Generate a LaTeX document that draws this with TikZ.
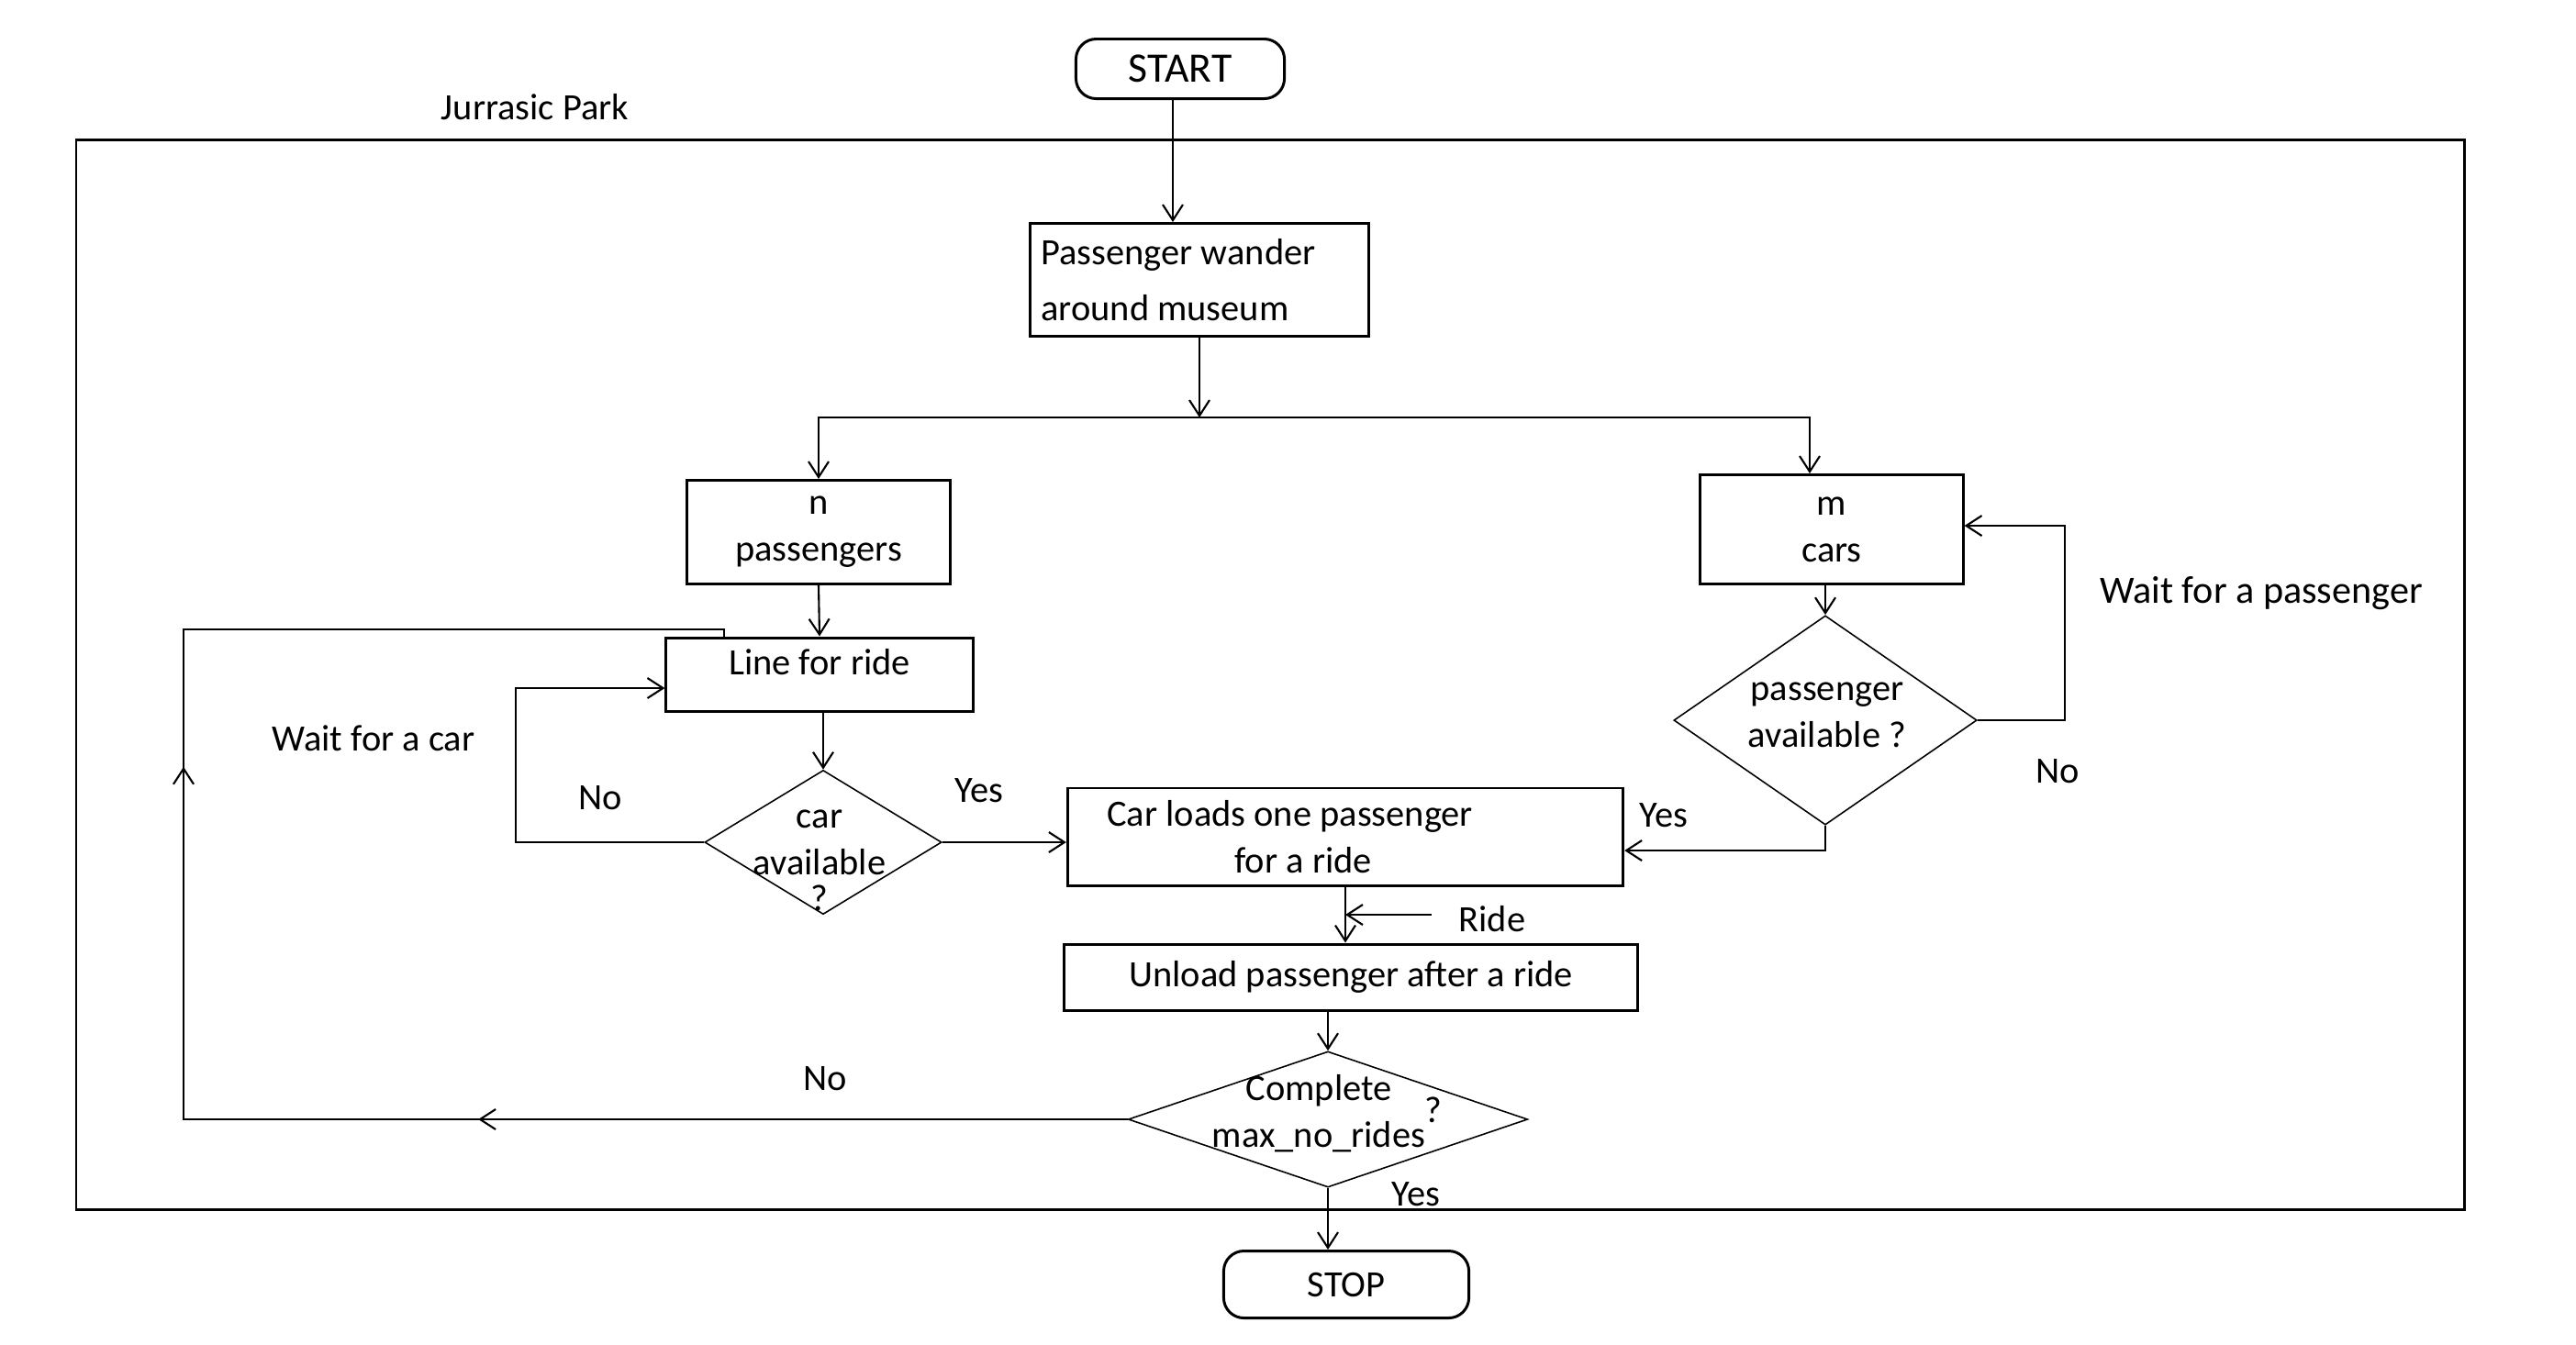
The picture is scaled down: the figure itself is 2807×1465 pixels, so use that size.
\documentclass[tikz,border=0pt]{standalone}
\usepackage{fontspec}
\setmainfont{Carlito}
\usetikzlibrary{shapes.geometric,arrows.meta,decorations.markings}

\tikzset{
  box/.style={draw,line width=0.85pt,inner sep=0pt,align=center},
  endbox/.style={box,rounded corners=0.22cm},
  decision/.style={draw,diamond,line width=0.45pt,inner sep=0pt},
  txt/.style={inner sep=0pt,align=center},
  link/.style={line width=0.6pt},
  arr/.style={link,-{Straight Barb[length=0.17cm,width=0.22cm]}},
  midarr/.style={link,postaction={decorate},decoration={markings,
    mark=at position #1 with {\arrow{Straight Barb[length=0.17cm,width=0.22cm]}}}}
}

\begin{document}
\begin{tikzpicture}[x=0.01cm,y=-0.01cm,font=\fontsize{11.5}{14.5}\selectfont]
\useasboundingbox (0,0) rectangle (2807,1465);

% the park
\draw[line width=0.85pt] (83,152) rectangle (2685,1318);
\node[txt,font=\fontsize{11.5}{13}\selectfont] (park) at (583,117) {Jurrasic Park};

% boxes
\node[endbox,minimum width=2.27cm,minimum height=0.65cm,font=\fontsize{13}{15}\selectfont] (start) at (1286,75) {START};
\node[box,minimum width=3.69cm,minimum height=1.23cm,text width=3.45cm,align=flush left] (wander) at (1307,305) {Passenger wander\\[0.1cm]around museum};
\node[box,minimum width=2.87cm,minimum height=1.13cm] (nbox) at (892,580) {n\\passengers};
\node[box,minimum width=2.86cm,minimum height=1.19cm] (mcars) at (1996,577) {m\\cars};
\node[box,minimum width=3.34cm,text height=0.3cm,text depth=0.3cm,inner ysep=0.1cm] (line) at (893,735) {Line for ride};
\node[box,minimum width=6.05cm,minimum height=1.06cm,text width=5.19cm,inner xsep=0.43cm,align=flush left] (cload) at (1466,912) {Car loads one passenger\\\hspace*{1.39cm}for a ride};
\node[box,minimum width=6.25cm,minimum height=0.72cm] (unload) at (1472,1065) {Unload passenger after a ride};
\node[endbox,minimum width=2.67cm,minimum height=0.73cm] (stop) at (1467,1400) {STOP};

% decisions
\node[decision,minimum width=3.3cm,minimum height=2.28cm] (pavail) at (1989,785) {};
\node[txt] (pavailtxt) at (1991,779) {passenger\\available ?};
\node[decision,minimum width=2.58cm,minimum height=1.57cm] (cavail) at (897,918) {};
\node[txt] (cavailtxt) at (893,938) {car\\available\\[-0.12cm]?};
\node[decision,minimum width=4.35cm,minimum height=1.48cm] (cmplt) at (1447,1220) {};
\node[txt] (cmplttxt) at (1437,1214) {Complete\\max\_no\_rides};
\node[txt] (cmpltq) at (1562,1210) {?};

% flow
\coordinate (fork) at (1307,455);
\draw[arr] ([xshift=-0.08cm]start.south) -- ([xshift=-0.08cm]start.south |- wander.north);
\draw[arr] (wander.south) -- (fork);
\draw[arr] (fork) -| (nbox.north);
\draw[arr] (fork) -| ([xshift=-0.24cm]mcars.north);
\draw[arr] (nbox.south) -- (line.north);
\draw[arr] (cavail.north |- line.south) -- (cavail.north);
\draw[arr] (cavail.east) -- (cavail.east -| cload.west);
\coordinate (waitcar) at (562,750);
\draw[arr] (cavail.west) -| (waitcar) -- (waitcar -| line.west);
\draw[arr] (pavail.north |- mcars.south) -- (pavail.north);
\coordinate (waitpas) at (2250,573);
\draw[arr] (pavail.east) -| (waitpas) -- (waitpas -| mcars.east);
\draw[arr] (pavail.south) |- ([yshift=-0.15cm]cload.east);
\draw[arr] (cload.south) -- (cload.south |- unload.north);
\coordinate (ridetail) at (1560,997);
\draw[arr] (ridetail) -- (ridetail -| cload.south);
\draw[arr] (cmplt.north |- unload.south) -- (cmplt.north);
\draw[arr] (cmplt.south) -- (cmplt.south |- stop.north);

% back to the line
\coordinate (backbot) at (200,1220);
\coordinate (backtop) at (200,686);
\coordinate (backin) at (789,686);
\draw[midarr=7.07cm] (cmplt.west) -- (backbot) -- (backtop) -- (backin) -- (backin |- line.north);
\draw[midarr=14.12cm] (cmplt.west) -- (backbot) -- (backtop);

% labels
\node[txt] (nocar) at (654,870) {No};
\node[txt] (waitcartxt) at (407,805) {Wait for a car};
\node[txt] (yescar) at (1067,862) {Yes};
\node[txt,font=\fontsize{12}{14}\selectfont] (waitpastxt) at (2464,647) {Wait for a passenger};
\node[txt] (nopas) at (2242,841) {No};
\node[txt] (yespas) at (1813,889) {Yes};
\node[txt] (ride) at (1626,1002) {Ride};
\node[txt] (nodone) at (899,1176) {No};
\node[txt] (yesdone) at (1543,1302) {Yes};
\end{tikzpicture}
\end{document}
